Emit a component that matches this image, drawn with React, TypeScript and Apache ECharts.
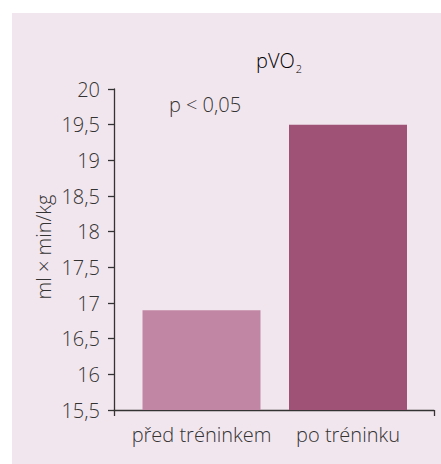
import React, { useEffect, useRef } from "react";
import * as echarts from "echarts";

const categories = ["před tréninkem", "po tréninku"];
const values = [16.9, 19.5];
const barColors = ["#c086a3", "#a05176"];
const yMin = 15.5;
const yMax = 20;
const yStep = 0.5;

const FONT = "'Open Sans', 'Noto Sans', sans-serif";
const TEXT = "#333333";
const FS = 20;

export default function App() {
  const ref = useRef<HTMLDivElement>(null);
  useEffect(() => {
    if (!ref.current) return;
    const chart = echarts.init(ref.current, undefined, { renderer: "svg" });
    const lbl = { fontFamily: FONT, fontSize: FS, fontWeight: 300, color: TEXT };
    chart.setOption({
      animation: false,
      backgroundColor: "#ffffff",
      graphic: [
        {
          type: "rect",
          z: -10,
          shape: { x: 12, y: 13, width: 429, height: 451 },
          style: { fill: "#f2e6ee" },
          silent: true,
        },
        {
          type: "text",
          x: 279,
          y: 60,
          style: {
            text: "{a|pVO}{s|2}",
            align: "center",
            verticalAlign: "middle",
            rich: {
              a: { fontFamily: FONT, fontSize: FS, fontWeight: 300, color: TEXT },
              s: { fontFamily: FONT, fontSize: 11, fontWeight: 300, color: TEXT, padding: [16, 0, 0, 1] },
            },
          },
        },
        {
          type: "text",
          x: 205,
          y: 104,
          style: {
            text: "p < 0,05",
            align: "center",
            verticalAlign: "middle",
            fontFamily: FONT,
            fontSize: FS,
            fontWeight: 300,
            fill: TEXT,
          },
        },
        {
          type: "text",
          x: 43,
          y: 247,
          rotation: Math.PI / 2,
          style: {
            text: "ml × min/kg",
            align: "center",
            verticalAlign: "middle",
            fontFamily: FONT,
            fontSize: FS,
            fontWeight: 300,
            fill: TEXT,
          },
        },
      ],
      grid: [
        { left: 128.25, right: 19.75, top: 89, bottom: 54 },
        { left: 114, right: 7, top: 89, bottom: 54 },
      ],
      xAxis: [
        {
          gridIndex: 0,
          type: "category",
          data: categories,
          boundaryGap: true,
          axisLine: { show: false },
          axisTick: { show: false },
          axisLabel: { margin: 14, interval: 0, hideOverlap: false, ...lbl },
        },
        {
          gridIndex: 1,
          type: "value",
          min: 0,
          max: 1,
          interval: 1,
          axisLine: { show: true, onZero: false, lineStyle: { color: TEXT, width: 1.3 } },
          axisTick: { show: true, length: 6, lineStyle: { color: TEXT, width: 1.3 } },
          axisLabel: { show: false },
          splitLine: { show: false },
        },
      ],
      yAxis: [
        {
          gridIndex: 0,
          type: "value",
          min: yMin,
          max: yMax,
          interval: yStep,
          show: false,
        },
        {
          gridIndex: 1,
          type: "value",
          min: yMin,
          max: yMax,
          interval: yStep,
          axisLine: { show: true, lineStyle: { color: TEXT, width: 1.3 } },
          axisTick: { show: true, length: 6, lineStyle: { color: TEXT, width: 1.3 } },
          splitLine: { show: false },
          axisLabel: {
            margin: 14,
            ...lbl,
            formatter: (v: number) => String(v).replace(".", ","),
          },
        },
      ],
      series: [
        {
          type: "bar",
          xAxisIndex: 0,
          yAxisIndex: 0,
          barWidth: 118,
          data: values.map((v, i) => ({ value: v, itemStyle: { color: barColors[i] } })),
        },
      ],
    });
    return () => chart.dispose();
  }, []);
  return (
    <div
      ref={ref}
      style={{ position: "fixed", left: 0, top: 0, width: 441, height: 464 }}
    />
  );
}
